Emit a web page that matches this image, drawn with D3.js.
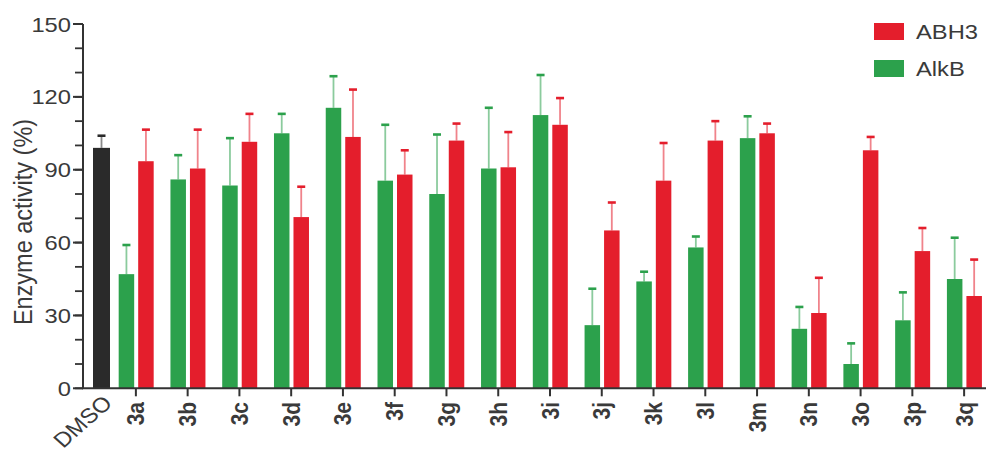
<!DOCTYPE html>
<html>
<head>
<meta charset="utf-8">
<script src="https://cdn.jsdelivr.net/npm/d3@7"></script>
<style>
  html, body { margin: 0; padding: 0; background: #fff; }
  svg { display: block; }
  text { font-family: "Liberation Sans", Arial, sans-serif; fill: #3a3a3a; }
</style>
</head>
<body>
<svg id="chart" width="986" height="458"></svg>
<script>
// Compounds tested against both demethylases
const categories = ["3a","3b","3c","3d","3e","3f","3g","3h","3i","3j","3k","3l","3m","3n","3o","3p","3q"];

// Relative enzyme activity (%) and error (SD)
const alkbValues = [47, 86, 83.5, 105, 115.5, 85.5, 80, 90.5, 112.5, 26, 44, 58, 103, 24.5, 10, 28, 45];
const alkbErrors = [12, 10, 19.5, 8, 13, 23, 24.5, 25, 16.5, 15, 4, 4.5, 9, 9, 8.5, 11.5, 17];
const abh3Values = [93.5, 90.5, 101.5, 70.5, 103.5, 88, 102, 91, 108.5, 65, 85.5, 102, 105, 31, 98, 56.5, 38];
const abh3Errors = [13, 16, 11.5, 12.5, 19.5, 10, 7, 14.5, 11, 11.5, 15.5, 8, 4, 14.5, 5.5, 9.5, 15];

// Vehicle control
const controlLabel = ["DMSO"];
const controlValue = [99];
const controlError = [5];

const yTicks = [0, 30, 60, 90, 120, 150];
const yMinorTicks = d3.range(0, 151, 10);

const colors = { ABH3: "#e41e2c", AlkB: "#2ca14c", DMSO: "#2a2a2a" };

const svg = d3.select("#chart");
const axisColor = "#333";
// type is set slightly wide
const stretch = "scale(1.13,1)";

const y = d3.scaleLinear().domain([0, 150]).range([388.3, 24]);
const x = d3.scaleBand().domain(categories).range([110, 990]);
const xCtrl = d3.scaleBand().domain(controlLabel).range([93, 110]);

const barW = 15.5;
const center = c => x(c) + x.bandwidth() / 2 + 0.3;

// error bar: faint stem plus solid cap
function errorBar(g, cx, v, e, color) {
  g.append("line")
    .attr("x1", cx).attr("x2", cx)
    .attr("y1", y(v)).attr("y2", y(v + e))
    .attr("stroke", color).attr("stroke-width", 1.8).attr("stroke-opacity", 0.55);
  g.append("line")
    .attr("x1", cx - 4).attr("x2", cx + 4)
    .attr("y1", y(v + e)).attr("y2", y(v + e))
    .attr("stroke", color).attr("stroke-width", 2.6);
}

const marks = svg.append("g");

// control bar
controlLabel.forEach((c, i) => {
  marks.append("rect")
    .attr("x", xCtrl(c)).attr("width", xCtrl.bandwidth())
    .attr("y", y(controlValue[i])).attr("height", y(0) - y(controlValue[i]))
    .attr("fill", colors.DMSO);
  errorBar(marks, xCtrl(c) + xCtrl.bandwidth() / 2, controlValue[i], controlError[i], colors.DMSO);
});

// grouped bars
categories.forEach((c, i) => {
  const cx = center(c);
  marks.append("rect")
    .attr("x", cx - 17.5).attr("width", barW)
    .attr("y", y(alkbValues[i])).attr("height", y(0) - y(alkbValues[i]))
    .attr("fill", colors.AlkB);
  marks.append("rect")
    .attr("x", cx + 2).attr("width", barW)
    .attr("y", y(abh3Values[i])).attr("height", y(0) - y(abh3Values[i]))
    .attr("fill", colors.ABH3);
  errorBar(marks, cx - 17.5 + barW / 2, alkbValues[i], alkbErrors[i], colors.AlkB);
  errorBar(marks, cx + 2 + barW / 2, abh3Values[i], abh3Errors[i], colors.ABH3);
});

// y axis
const yAxisG = svg.append("g").attr("transform", "translate(83,0)");
yAxisG.append("line")
  .attr("x1", 0).attr("x2", 0).attr("y1", y(150)).attr("y2", y(0))
  .attr("stroke", axisColor).attr("stroke-width", 2);
yAxisG.selectAll(".minor").data(yMinorTicks).join("line")
  .attr("x1", -8).attr("x2", 0)
  .attr("y1", d => y(d)).attr("y2", d => y(d))
  .attr("stroke", axisColor).attr("stroke-width", 1.8);
yAxisG.selectAll(".major").data(yTicks).join("line")
  .attr("x1", -10).attr("x2", 0)
  .attr("y1", d => y(d)).attr("y2", d => y(d))
  .attr("stroke", axisColor).attr("stroke-width", 2);
yAxisG.selectAll("text").data(yTicks).join("text")
  .attr("transform", d => `translate(-12,${y(d)}) ${stretch}`)
  .attr("dy", "0.36em")
  .attr("text-anchor", "end").attr("font-size", 21)
  .text(d => d);

svg.append("text")
  .attr("transform", `translate(32,222) ${stretch} rotate(-90)`)
  .attr("text-anchor", "middle").attr("font-size", 23.5)
  .text("Enzyme activity (%)");

// x axis
const xAxisG = svg.append("g");
xAxisG.append("line")
  .attr("x1", 82).attr("x2", 986).attr("y1", y(0)).attr("y2", y(0))
  .attr("stroke", axisColor).attr("stroke-width", 2);
xAxisG.selectAll(".xt").data(categories).join("line")
  .attr("x1", d => center(d) - 0.3).attr("x2", d => center(d) - 0.3)
  .attr("y1", y(0)).attr("y2", y(0) + 8)
  .attr("stroke", axisColor).attr("stroke-width", 2);
xAxisG.selectAll(".xl").data(categories).join("text")
  .attr("transform", d => `translate(${center(d) - 0.3},402) ${stretch} rotate(-90)`)
  .attr("dy", "0.36em").attr("text-anchor", "end").attr("font-size", 21)
  .attr("font-weight", "bold")
  .text(d => d);
xAxisG.selectAll(".xc").data(controlLabel).join("text")
  .attr("transform", d => `translate(${xCtrl(d) + xCtrl.bandwidth() / 2 + 6},399) ${stretch} rotate(-45)`)
  .attr("dy", "0.36em").attr("text-anchor", "end").attr("font-size", 21)
  .text(d => d);

// legend
const legendItems = ["ABH3", "AlkB"];
const legend = svg.append("g").attr("transform", "translate(874,23)");
legendItems.forEach((k, i) => {
  const g = legend.append("g").attr("transform", `translate(0,${i * 37})`);
  g.append("rect").attr("width", 30).attr("height", 17).attr("fill", colors[k]);
  g.append("text").attr("transform", `translate(42,8.5) ${stretch}`).attr("dy", "0.36em")
    .attr("font-size", 21).text(k);
});
</script>
</body>
</html>
